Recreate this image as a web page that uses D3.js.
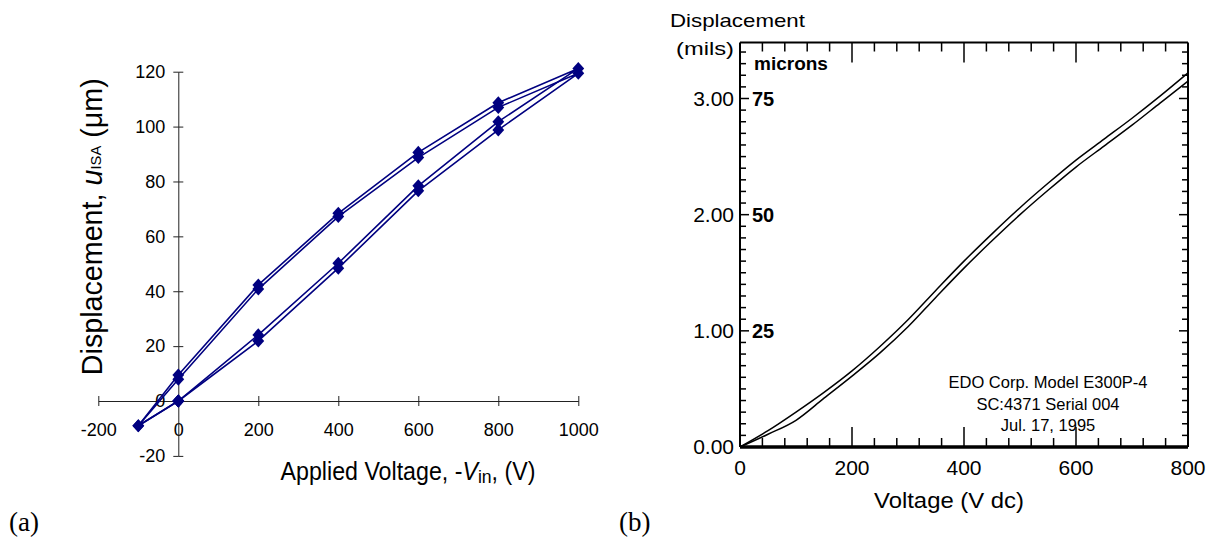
<!DOCTYPE html>
<html><head><meta charset="utf-8">
<script src="https://cdn.jsdelivr.net/npm/d3@7"></script>
<style>body{margin:0;background:#fff} svg{display:block}</style>
</head><body><svg id="chart" width="1214" height="542"></svg>
<script>
// ---------- Panel (a) data ----------
const voltA = [0, 200, 400, 600, 800, 1000, 800, 600, 400, 200, 0, -100, 0];
const dispA1 = [0, 24.1, 50.2, 78.4, 101.8, 121.2, 108.7, 90.6, 68.4, 42.3, 9.5, -9, 0];
const dispA2 = [0, 21.9, 48.4, 76.6, 98.8, 119.4, 107.0, 88.7, 67.2, 40.8, 7.9, -9, 0];
const xTicksA = [-200, 0, 200, 400, 600, 800, 1000];
const yTicksA = [-20, 0, 20, 40, 60, 80, 100, 120];

// ---------- Panel (b) data ----------
const voltB = [0, 50, 100, 150, 200, 250, 300, 350, 400, 450, 500, 550, 600, 650, 700, 750, 800];
const milsUpper = [0, 0.14, 0.30, 0.47, 0.655, 0.865, 1.095, 1.35, 1.60, 1.835, 2.06, 2.27, 2.47, 2.65, 2.83, 3.02, 3.22];
const milsLower = [0, 0.11, 0.23, 0.42, 0.61, 0.81, 1.035, 1.29, 1.54, 1.775, 2.00, 2.21, 2.41, 2.59, 2.77, 2.96, 3.15];
const xTicksB = [0, 200, 400, 600, 800];
const yTicksB = [0, 1, 2, 3];
const micronTicks = [25, 50, 75];
const noteLines = ["EDO Corp. Model E300P-4", "SC:4371 Serial 004", "Jul. 17, 1995"];

const svg = d3.select("#chart");
const SANS = "'Liberation Sans', Arial, sans-serif";
const SERIF = "'Liberation Serif', 'Times New Roman', serif";
const NAVY = "#000080";

function fitWidth(sel, target) {
  const w = sel.node().getComputedTextLength();
  return target / w;
}

// ================= Panel (a) =================
const xA = d3.scaleLinear().domain([-200, 1000]).range([98.3, 578.3]);
const yA = d3.scaleLinear().domain([-20, 120]).range([455.9, 71.7]);
const gA = svg.append("g");
const plainFmt = d => String(d);

// x axis (crossing ticks)
gA.append("g").attr("transform", `translate(0,${yA(0)})`)
  .call(d3.axisBottom(xA).tickValues(xTicksA).tickSize(5).tickSizeOuter(0).tickPadding(17).tickFormat(plainFmt));
gA.append("g").attr("transform", `translate(0,${yA(0)})`)
  .call(d3.axisTop(xA).tickValues(xTicksA).tickSize(5).tickSizeOuter(0).tickFormat(""))
  .select(".domain").remove();
// y axis
gA.append("g").attr("transform", `translate(${xA(0)},0)`)
  .call(d3.axisLeft(yA).tickValues(yTicksA).tickSize(5).tickSizeOuter(0).tickPadding(8).tickFormat(plainFmt));
gA.append("g").attr("transform", `translate(${xA(0)},0)`)
  .call(d3.axisRight(yA).tickValues(yTicksA).tickSize(5).tickSizeOuter(0).tickFormat(""))
  .select(".domain").remove();
gA.selectAll(".domain, .tick line").attr("stroke", "#222").attr("stroke-width", 1);
gA.selectAll(".tick text").attr("font-family", SANS).attr("font-size", 18).attr("fill", "#000");

// series lines
const lineA = d3.line().x(d => xA(d[0])).y(d => yA(d[1]));
[dispA1, dispA2].forEach(ser => {
  const pts = voltA.map((v, i) => [v, ser[i]]);
  gA.append("path").attr("d", lineA(pts)).attr("fill", "none")
    .attr("stroke", NAVY).attr("stroke-width", 1.6).attr("stroke-linejoin", "round");
});
const diamond = d3.symbol().type(d3.symbolSquare).size(70);
[dispA1, dispA2].forEach(ser => {
  gA.append("g").selectAll("path").data(voltA.map((v, i) => [v, ser[i]])).join("path")
    .attr("d", diamond)
    .attr("transform", d => `translate(${xA(d[0])},${yA(d[1])}) scale(1,1.1) rotate(45)`)
    .attr("fill", NAVY);
});

// axis titles (a)
const xt = gA.append("text").attr("font-family", SANS).attr("font-size", 25).attr("text-anchor", "middle").attr("fill", "#000");
xt.append("tspan").text("Applied Voltage, -");
xt.append("tspan").attr("font-style", "italic").text("V");
xt.append("tspan").attr("font-size", 19).attr("dy", 3).text("in");
xt.append("tspan").attr("dy", -3).text(", (V)");
xt.attr("transform", `translate(408,480) scale(${fitWidth(xt, 255)},1)`);

const yt = gA.append("text").attr("font-family", SANS).attr("font-size", 29).attr("text-anchor", "middle").attr("fill", "#000");
yt.append("tspan").text("Displacement, ");
yt.append("tspan").attr("font-style", "italic").text("u");
yt.append("tspan").attr("font-size", 15).attr("dy", -1).text("ISA");
yt.append("tspan").attr("dy", 1).text(" (\u03bcm)");
yt.attr("transform", `translate(101.6,226.7) rotate(-90) scale(${fitWidth(yt, 297)},1)`);

gA.append("text").attr("x", 9).attr("y", 531).attr("font-family", SERIF).attr("font-size", 27).text("(a)");

// ================= Panel (b) =================
const xB = d3.scaleLinear().domain([0, 800]).range([740, 1188]);
const yB = d3.scaleLinear().domain([0, 3]).range([447, 98.5]);
const yMic = d3.scaleLinear().domain([0, 75]).range([447, 98.5]);
const topMils = yB.invert(42.5);
const gB = svg.append("g");

// tick marks
const vTicks = d3.range(40, 800, 40);
const mTicks = d3.range(1, Math.floor(topMils * 10) + 1).map(d => d / 10);
const isMajV = v => v % 200 === 0;
const isMajM = m => Math.abs(m - Math.round(m)) < 1e-6;
gB.append("g").selectAll("line").data(vTicks).join("line")
  .attr("x1", d => xB(d)).attr("x2", d => xB(d))
  .attr("y1", yB(0)).attr("y2", d => yB(0) - (isMajV(d) ? 20 : 9));
gB.append("g").selectAll("line").data(vTicks).join("line")
  .attr("x1", d => xB(d)).attr("x2", d => xB(d))
  .attr("y1", yB(topMils)).attr("y2", d => yB(topMils) + (isMajV(d) ? 20 : 9));
gB.append("g").selectAll("line").data(mTicks).join("line")
  .attr("x1", xB(0)).attr("x2", d => xB(0) + (isMajM(d) ? 9 : 6))
  .attr("y1", d => yB(d)).attr("y2", d => yB(d));
gB.append("g").selectAll("line").data(mTicks).join("line")
  .attr("x1", xB(800)).attr("x2", d => xB(800) - (isMajM(d) ? 9 : 6))
  .attr("y1", d => yB(d)).attr("y2", d => yB(d));
gB.selectAll("line").attr("stroke", "#000").attr("stroke-width", 1.5);

// frame
gB.append("line").attr("x1", xB(0)).attr("x2", xB(0)).attr("y1", yB(topMils)).attr("y2", yB(0)).attr("stroke", "#000").attr("stroke-width", 2);
gB.append("line").attr("x1", xB(800)).attr("x2", xB(800)).attr("y1", yB(topMils)).attr("y2", yB(0)).attr("stroke", "#000").attr("stroke-width", 2);
gB.append("line").attr("x1", xB(0)).attr("x2", xB(800)).attr("y1", yB(topMils)).attr("y2", yB(topMils)).attr("stroke", "#000").attr("stroke-width", 2);
gB.append("line").attr("x1", xB(0)).attr("x2", xB(800)).attr("y1", yB(0)).attr("y2", yB(0)).attr("stroke", "#000").attr("stroke-width", 3.5);

// curves
const lineB = d3.line().x(d => xB(d[0])).y(d => yB(d[1])).curve(d3.curveMonotoneX);
[milsUpper, milsLower].forEach(ser => {
  gB.append("path").attr("d", lineB(voltB.map((v, i) => [v, ser[i]])))
    .attr("fill", "none").attr("stroke", "#000").attr("stroke-width", 1.5);
});

// tick labels
gB.append("g").selectAll("text").data(yTicksB).join("text")
  .attr("x", 734).attr("y", d => yB(d) + 7).attr("text-anchor", "end")
  .attr("font-family", SANS).attr("font-size", 21).text(d => d.toFixed(2));
gB.append("g").selectAll("text").data(xTicksB).join("text")
  .attr("x", d => xB(d)).attr("y", 475).attr("text-anchor", "middle")
  .attr("font-family", SANS).attr("font-size", 21).text(d => d);
gB.append("g").selectAll("text").data(micronTicks).join("text")
  .attr("x", 752).attr("y", d => yMic(d) + 7)
  .attr("font-family", SANS).attr("font-weight", "bold").attr("font-size", 20).text(d => d);
gB.append("text").attr("x", 754).attr("y", 70).attr("font-family", SANS).attr("font-weight", "bold").attr("font-size", 19).text("microns");

const t1 = gB.append("text").attr("font-family", SANS).attr("font-size", 19).text("Displacement");
t1.attr("transform", `translate(670,27) scale(${fitWidth(t1, 135)},1)`);
const t2 = gB.append("text").attr("font-family", SANS).attr("font-size", 19).text("(mils)");
t2.attr("transform", `translate(676,55) scale(${fitWidth(t2, 58)},1)`);
const t3 = gB.append("text").attr("font-family", SANS).attr("font-size", 22).attr("text-anchor", "middle").text("Voltage (V dc)");
t3.attr("transform", `translate(949,508) scale(${fitWidth(t3, 150)},1)`);

gB.append("g").selectAll("text").data(noteLines).join("text")
  .attr("x", 1048).attr("y", (d, i) => 388 + i * 21.5).attr("text-anchor", "middle")
  .attr("font-family", SANS).attr("font-size", 16.5).text(d => d);

gB.append("text").attr("x", 619).attr("y", 531).attr("font-family", SERIF).attr("font-size", 27).text("(b)");
</script>
</body></html>
